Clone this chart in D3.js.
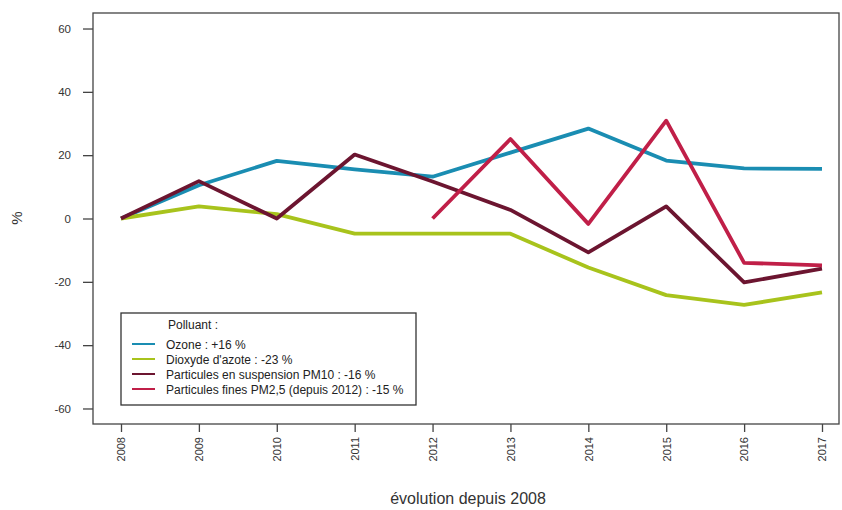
<!DOCTYPE html>
<html><head><meta charset="utf-8">
<script src="https://cdn.jsdelivr.net/npm/d3@7"></script>
<style>body{margin:0;background:#fff;}svg{display:block;font-family:"Liberation Sans",Arial,sans-serif;}</style>
</head><body>
<svg id="c" width="842" height="510"></svg>
<script>
const years = [2008,2009,2010,2011,2012,2013,2014,2015,2016,2017];
const ozone = [0,10.5,18.2,15.5,13.2,20.8,28.4,18.3,15.8,15.7];
const no2 = [0,3.8,1.4,-4.8,-4.8,-4.8,-15.5,-24.2,-27.3,-23.3];
const pm10 = [0,11.8,0,20.2,11.7,2.7,-10.7,3.8,-20.2,-15.8];
const pm25 = [null,null,null,null,0,25.1,-1.7,30.9,-14.0,-14.8];
const yTicks = [-60,-40,-20,0,20,40,60];
const seriesNames = ["Ozone : +16 %","Dioxyde d'azote : -23 %","Particules en suspension PM10 : -16 %","Particules fines PM2,5 (depuis 2012) : -15 %"];
const seriesColors = ["#1a8db2","#a8c31c","#6c1530","#c01f48"];
const seriesData = [ozone,no2,pm10,pm25];

const svg = d3.select("#c");
const box = {l:93, r:839, t:13, b:424};
const x = d3.scaleLinear().domain([2008,2017]).range([121,822]);
const y = d3.scaleLinear().domain([-64.9,64.9]).range([box.b,box.t]);

// plot box
svg.append("rect").attr("x",box.l).attr("y",box.t).attr("width",box.r-box.l).attr("height",box.b-box.t)
  .attr("fill","none").attr("stroke","#444").attr("stroke-width",1.3);

// y axis
const ya = svg.append("g").attr("transform",`translate(${box.l},0)`)
  .call(d3.axisLeft(y).tickValues(yTicks).tickSize(10).tickPadding(12).tickFormat(d=>String(d)));
ya.select(".domain").remove();
ya.selectAll("line").attr("stroke","#444").attr("stroke-width",1.3);
ya.selectAll("text").attr("font-size",11.5).attr("fill","#333").attr("font-family","Liberation Sans, Arial, sans-serif");

// x axis
const xa = svg.append("g").attr("transform",`translate(0,${box.b})`)
  .call(d3.axisBottom(x).tickValues(years).tickSize(8).tickFormat(d=>String(d)));
xa.select(".domain").remove();
xa.selectAll("line").attr("stroke","#444").attr("stroke-width",1.3);
xa.selectAll("text").attr("font-size",11).attr("fill","#333")
  .attr("font-family","Liberation Sans, Arial, sans-serif")
  .attr("transform","rotate(-90)").attr("text-anchor","end")
  .attr("x",-13).attr("y",0).attr("dy","0.35em");

// axis titles
svg.append("text").attr("x",468).attr("y",504).attr("text-anchor","middle")
  .attr("font-size",16).attr("fill","#333").text("évolution depuis 2008");
svg.append("text").attr("transform","translate(22,218) rotate(-90)").attr("text-anchor","middle")
  .attr("font-size",15).attr("fill","#333").text("%");

// lines
const line = d3.line().defined(d=>d[1]!==null).x(d=>x(d[0])).y(d=>y(d[1]));
seriesData.forEach((s,i)=>{
  svg.append("path").datum(years.map((yr,j)=>[yr,s[j]]))
    .attr("d",line).attr("fill","none").attr("stroke",seriesColors[i])
    .attr("stroke-width",3.8).attr("stroke-linejoin","round").attr("stroke-linecap","butt");
});

// legend
const lg = svg.append("g");
lg.append("rect").attr("x",121).attr("y",313).attr("width",295).attr("height",92)
  .attr("fill","#fff").attr("stroke","#333").attr("stroke-width",1.3);
lg.append("text").attr("x",168).attr("y",329).attr("font-size",12).attr("fill","#222").text("Polluant :");
seriesNames.forEach((n,i)=>{
  const yy = 344 + i*15;
  lg.append("line").attr("x1",132).attr("x2",155).attr("y1",yy).attr("y2",yy)
    .attr("stroke",seriesColors[i]).attr("stroke-width",2);
  lg.append("text").attr("x",166).attr("y",yy+4.5).attr("font-size",12).attr("fill","#222").text(n);
});
</script>
</body></html>
